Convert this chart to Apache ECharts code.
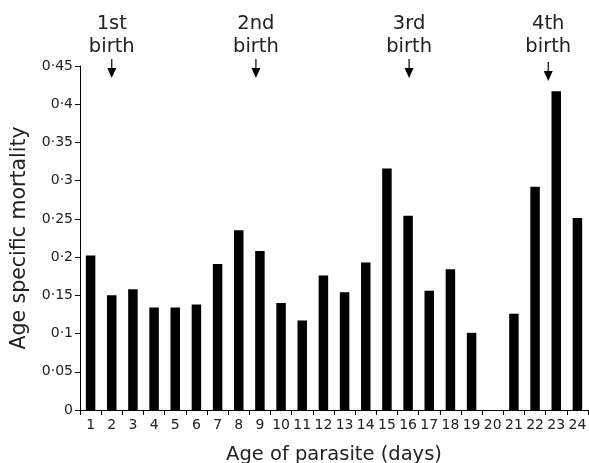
<!DOCTYPE html>
<html>
<head>
<meta charset="utf-8">
<script src="https://cdn.jsdelivr.net/npm/echarts@6/dist/echarts.min.js"></script>
<style>
  html, body { margin: 0; padding: 0; background: #ffffff; }
  #chart { width: 589px; height: 463px; }
</style>
</head>
<body>
<div id="chart"></div>
<script>
    // age of parasite (days)
    var days = ['1', '2', '3', '4', '5', '6', '7', '8', '9', '10', '11', '12',
                '13', '14', '15', '16', '17', '18', '19', '20', '21', '22', '23', '24'];
    // age specific mortality
    var mortality = [0.202, 0.150, 0.158, 0.134, 0.134, 0.138, 0.191, 0.235, 0.208, 0.140, 0.117, 0.176,
                     0.154, 0.193, 0.316, 0.254, 0.156, 0.184, 0.101, 0, 0.126, 0.292, 0.417, 0.251];
    // birth events marked above the plot
    var birthNames = ['1st\nbirth', '2nd\nbirth', '3rd\nbirth', '4th\nbirth'];
    var birthDays = ['2', '9', '16', '23'];
    var birthShift = [0, -4, 1, -8];

    var myChart = echarts.init(document.getElementById('chart'));
    var font = 'DejaVu Sans, sans-serif';

    myChart.setOption({
        animation: false,
        grid: {
            left: 80,
            right: 1,
            top: 66,
            bottom: 53,
            outerBoundsMode: 'none'
        },
        xAxis: {
            type: 'category',
            data: days,
            name: 'Age of parasite (days)',
            nameLocation: 'middle',
            nameGap: 35,
            nameTextStyle: { color: '#222', fontSize: 19.5, fontFamily: font },
            axisLine: { lineStyle: { color: '#000', width: 1 } },
            axisTick: { show: true, length: 5, lineStyle: { color: '#000' } },
            axisLabel: { color: '#222', fontSize: 14, fontFamily: font, margin: 8, interval: 0 }
        },
        yAxis: {
            type: 'value',
            min: 0,
            max: 0.45,
            interval: 0.05,
            name: 'Age specific mortality',
            nameLocation: 'middle',
            nameGap: 50,
            nameTextStyle: { color: '#222', fontSize: 20.5, fontFamily: font },
            splitLine: { show: false },
            axisLine: { show: true, lineStyle: { color: '#000', width: 1 } },
            axisTick: { show: true, length: 5, lineStyle: { color: '#000' } },
            axisLabel: {
                color: '#222',
                fontSize: 14,
                fontFamily: font,
                margin: 7,
                formatter: function (v) {
                    return String(Math.round(v * 100) / 100).replace('.', '·');
                }
            }
        },
        series: [{
            type: 'bar',
            data: mortality,
            barWidth: 9.5,
            itemStyle: { color: '#000' }
        }]
    });

    // arrows + labels for the births
    var els = [];
    birthDays.forEach(function (d, i) {
        var x = myChart.convertToPixel({ xAxisIndex: 0 }, d) + birthShift[i];
        var top = i === 3 ? 62 : 59;
        els.push({
            type: 'text',
            x: x,
            y: 12,
            style: {
                text: birthNames[i],
                fill: '#222',
                font: '19.5px ' + font,
                align: 'center',
                verticalAlign: 'top',
                lineHeight: 23
            }
        });
        els.push({
            type: 'line',
            shape: { x1: x, y1: top, x2: x, y2: top + 10 },
            style: { stroke: '#000', lineWidth: 1.2 }
        });
        els.push({
            type: 'polygon',
            shape: { points: [[x - 4.5, top + 9], [x + 4.5, top + 9], [x, top + 19]] },
            style: { fill: '#000' }
        });
    });
    myChart.setOption({ graphic: els });
</script>
</body>
</html>
